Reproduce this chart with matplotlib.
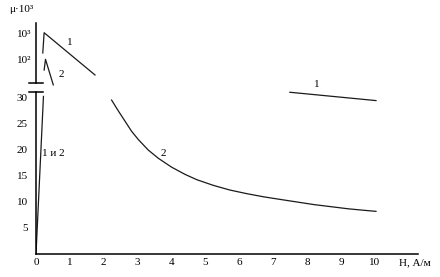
import matplotlib
matplotlib.use("Agg")
import matplotlib.pyplot as plt
from matplotlib.ticker import NullLocator, FixedLocator

plt.rcParams['font.family'] = ['Liberation Serif', 'DejaVu Serif']

# ---- data ----
x_ticks = [0, 1, 2, 3, 4, 5, 6, 7, 8, 9, 10]
y_ticks_low = [5, 10, 15, 20, 25, 30]
y_ticks_up = [100, 1000]
y_tick_up_labels = ["10²", "10³"]

# initial common rise "1 и 2"
rise_x = [0.0, 0.22]
rise_y = [0.0, 30.3]

# curve 1, upper (log) section
c1u_x = [0.20, 0.24, 1.74]
c1u_y = [186, 1120, 26.5]
# curve 2, upper (log) section
c2u_x = [0.24, 0.28, 0.51]
c2u_y = [41, 106, 11]

# curve 1, lower section (right segment)
c1l_x = [7.49, 10.03]
c1l_y = [31.1, 29.5]

# curve 2, lower section
c2l_x = [2.23, 2.43, 2.63, 2.82, 3.02, 3.31, 3.61, 4.00, 4.40, 4.74, 5.23,
         5.72, 6.22, 6.71, 7.20, 7.70, 8.20, 8.70, 9.20, 9.60, 10.03]
c2l_y = [29.6, 27.5, 25.5, 23.6, 22.0, 20.0, 18.4, 16.7, 15.3, 14.3, 13.2,
         12.3, 11.6, 11.0, 10.5, 10.0, 9.5, 9.1, 8.7, 8.45, 8.2]

XMAX = 11.27
YLOW_MAX = 31.15
YUP_MIN, YUP_MAX = 13.0, 2650

W, H = 440, 277
fig = plt.figure(figsize=(W / 100, H / 100), dpi=100)

L, R = 36, 418
ax = fig.add_axes([L / W, (H - 254) / H, (R - L) / W, (254 - 92) / H])
axu = fig.add_axes([L / W, (H - 83) / H, (R - L) / W, (83 - 23) / H])

lc = '#1a1a1a'
lw = 0.9
fs = 8

# lower axes
ax.plot(rise_x, rise_y, color=lc, lw=lw)
ax.plot(c2l_x, c2l_y, color=lc, lw=lw)
ax.plot(c1l_x, c1l_y, color=lc, lw=lw, clip_on=False)
ax.set_xlim(0, XMAX)
ax.set_ylim(0, YLOW_MAX)
for s in ['top', 'right']:
    ax.spines[s].set_visible(False)
for s in ['left', 'bottom']:
    ax.spines[s].set_linewidth(1.1)
ax.set_xticks(x_ticks)
ax.set_yticks(y_ticks_low)
ax.tick_params(axis='x', length=0, pad=3, labelsize=fs)
ax.tick_params(axis='y', length=0, pad=6, labelsize=fs)
ax.text(0.18, 19.4, "1 и 2", fontsize=fs, ha='left', va='center')
ax.text(3.76, 19.4, "2", fontsize=fs, ha='center', va='center')
ax.text(8.28, 32.5, "1", fontsize=fs, ha='center', va='center')
ax.text(11.18, -0.055, "H, А/м", fontsize=fs, ha='center', va='center',
        transform=ax.get_xaxis_transform())
ax.plot([-7 / (R - L), 7 / (R - L)], [1, 1], color='black', lw=1.1,
        transform=ax.transAxes, clip_on=False)

# upper axes
axu.set_yscale('log')
axu.plot(c1u_x, c1u_y, color=lc, lw=lw, clip_on=False)
axu.plot(c2u_x, c2u_y, color=lc, lw=lw, clip_on=False)
axu.set_xlim(0, XMAX)
axu.set_ylim(YUP_MIN, YUP_MAX)
for s in ['top', 'right', 'bottom']:
    axu.spines[s].set_visible(False)
axu.spines['left'].set_linewidth(1.1)
axu.xaxis.set_major_locator(NullLocator())
axu.yaxis.set_major_locator(FixedLocator(y_ticks_up))
axu.yaxis.set_minor_locator(NullLocator())
axu.set_yticklabels(y_tick_up_labels)
axu.tick_params(axis='y', length=0, pad=3, labelsize=fs)
axu.patch.set_alpha(0)
axu.text(1.0, 462, "1", fontsize=fs, ha='center', va='center')
axu.text(0.76, 26.5, "2", fontsize=fs, ha='center', va='center')
axu.plot([-7 / (R - L), 7 / (R - L)], [0, 0], color='black', lw=1.1,
         transform=axu.transAxes, clip_on=False)

fig.text(21 / W, 1 - 9 / H, "μ·10³", fontsize=fs, ha='center', va='center')

fig.savefig("out.png", dpi=100)
